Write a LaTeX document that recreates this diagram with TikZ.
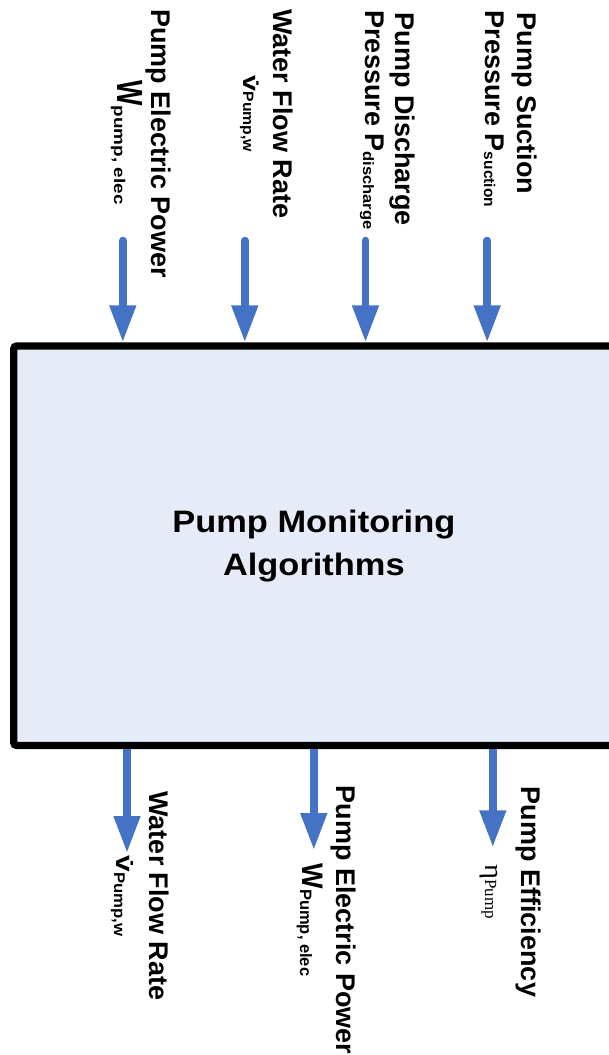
\documentclass[tikz,border=0pt]{standalone}
\usepackage{fontspec}
\setmainfont{Liberation Sans}
\newfontfamily\serifgr{Liberation Serif}
\usetikzlibrary{arrows.meta}
\definecolor{arrblue}{HTML}{4472C4}
\definecolor{boxfill}{HTML}{E6ECF7}
\newcommand{\fs}[1]{\fontsize{#1}{#1}\selectfont}
\begin{document}
\begin{tikzpicture}[x=1pt,y=-1pt,
  lbl/.style={rotate=-90, anchor=base, inner sep=0pt, outer sep=0pt, font=\bfseries\fs{27}},
  arrtop/.style={draw=arrblue, line width=7.5pt, line cap=round, -{Triangle[width=25pt,length=37pt]}},
  arrbot/.style={draw=arrblue, line width=7.5pt, -{Triangle[width=25pt,length=37pt]}},
  mainbox/.style={draw=black, line width=7.3pt, fill=boxfill, rounded corners=3pt, inner sep=0pt,
    minimum width=600.3pt, minimum height=399.5pt, font=\bfseries\fontsize{31}{43}\selectfont}
]
\useasboundingbox (0,0) rectangle (608,1055);

\node[mainbox] (box) at (313.85,545.75)
  {\scalebox{1.11}[1]{\begin{tabular}{@{}c@{}}Pump Monitoring\\Algorithms\end{tabular}}};

% top inputs
\coordinate (t1s) at (122.8,240.5);
\coordinate (t2s) at (244.8,240.5);
\coordinate (t3s) at (365.5,240.5);
\coordinate (t4s) at (487.2,240.5);
\draw[arrtop] (t1s) -- (t1s |- box.north);
\draw[arrtop] (t2s) -- (t2s |- box.north);
\draw[arrtop] (t3s) -- (t3s |- box.north);
\draw[arrtop] (t4s) -- (t4s |- box.north);

% bottom outputs
\coordinate (b1e) at (127,853);
\coordinate (b2e) at (313.8,850);
\coordinate (b3e) at (492.8,847.3);
\draw[arrbot] (b1e |- box.south) -- (b1e);
\draw[arrbot] (b2e |- box.south) -- (b2e);
\draw[arrbot] (b3e |- box.south) -- (b3e);

% top labels
\node[lbl] (t1a) at (151,143.5) {Pump Electric Power};
\node[lbl] (t1b) at (117,142.5) {\scalebox{1}[1.35]{W}\raisebox{-3pt}{\fs{15.5}\scalebox{1.22}[1]{pump, elec}}};
\node[lbl] (t2a) at (273,114) {Water Flow Rate};
\node[lbl] (t2b) at (243,114) {\scalebox{1.25}[1]{\fs{23}\.{v}}{\fs{15}\scalebox{1.05}[1]{Pump,w}}};
\node[lbl] (t3a) at (395,119.5) {Pump Discharge};
\node[lbl] (t3b) at (365,120) {Pressure P\raisebox{-2pt}{\fs{15}\scalebox{1.1}[1]{discharge}}};
\node[lbl] (t4a) at (517,103.5) {Pump Suction};
\node[lbl] (t4b) at (485,109) {Pressure P\raisebox{-1pt}{\fs{15.5}suction}};

% bottom labels
\node[lbl] (b1a) at (149,896) {Water Flow Rate};
\node[lbl] (b1b) at (116,896) {\scalebox{1.2}[1]{\fs{25}\.{v}}\raisebox{-2pt}{\fs{15.5}\scalebox{1.08}[1]{Pump,w}}};
\node[lbl] (b2a) at (336,920) {Pump Electric Power};
\node[lbl] (b2b) at (302,920) {\scalebox{1}[1.1]{W}\raisebox{-2pt}{\fs{16.5}Pump, elec}};
\node[lbl] (b3a) at (521,892) {Pump Efficiency};
\node[lbl] (b3b) at (485,891.5) {\serifgr\mdseries\scalebox{1.1}[1]{\fs{26}η}\fs{17}Pump};
\end{tikzpicture}
\end{document}
